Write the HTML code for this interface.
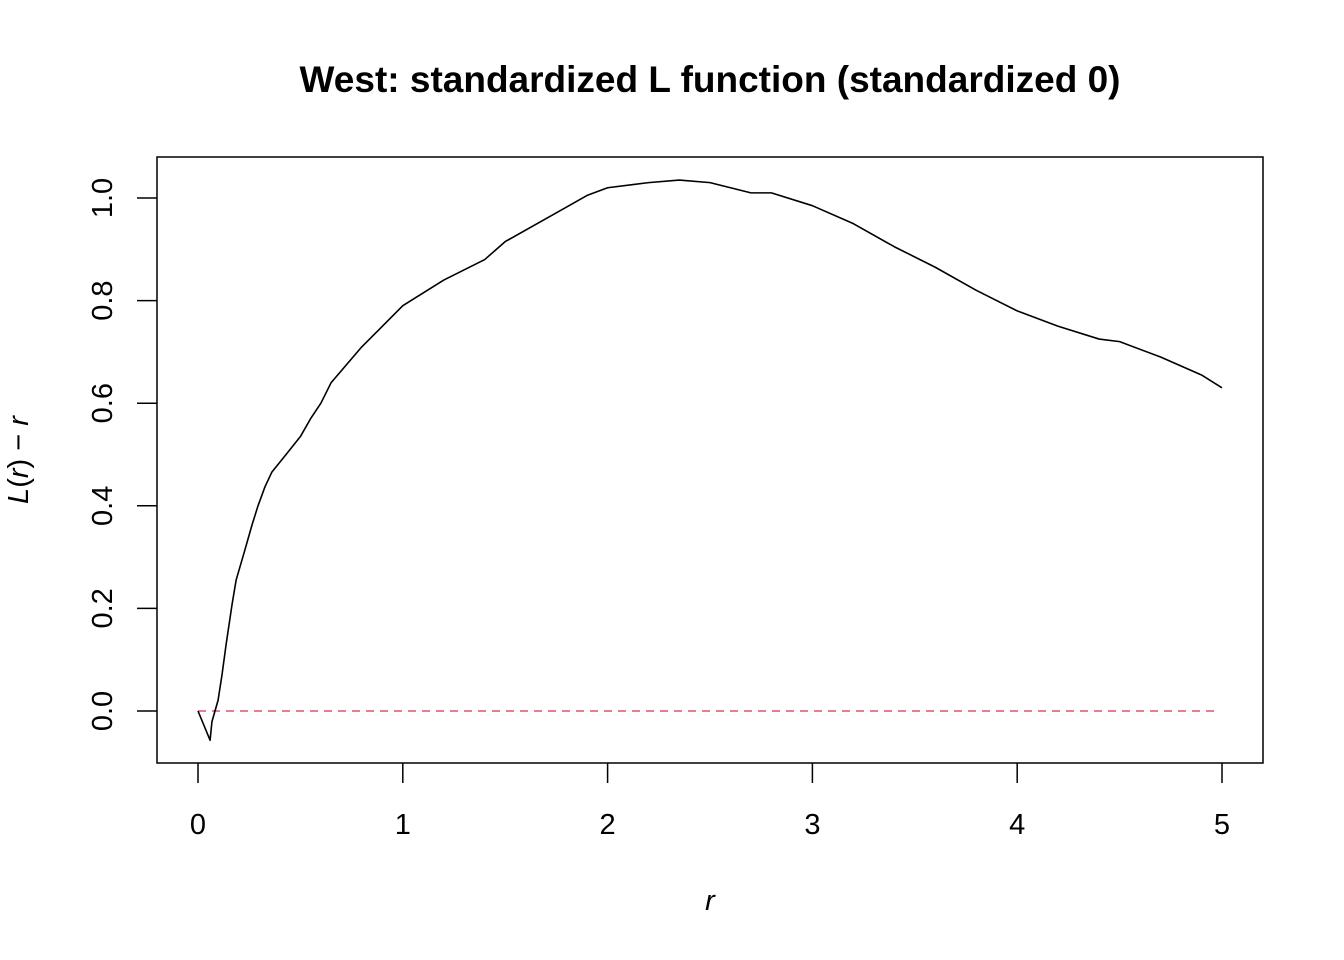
<!DOCTYPE html>
<html><head><meta charset="utf-8"><style>
body{margin:0;background:#fff;}
svg{display:block;font-family:"Liberation Sans",Arial,sans-serif;}
</style></head><body>
<svg id="chart" width="1344" height="960" xmlns="http://www.w3.org/2000/svg">
<text x="710" y="92" text-anchor="middle" font-size="37" font-weight="bold">West: standardized L function (standardized 0)</text>
<rect x="157" y="157" width="1106" height="606" fill="none" stroke="#000" stroke-width="1.5"/>
<g id="xaxis"></g>
<g id="yaxis"></g>
<text x="710" y="910" text-anchor="middle" font-size="29" font-style="italic">r</text>
<text transform="translate(28,460) rotate(-90)" text-anchor="middle" font-size="29"><tspan font-style="italic">L</tspan>(<tspan font-style="italic">r</tspan>) − <tspan font-style="italic">r</tspan></text>
<g id="series"></g>
</svg>
<script>
const xTicks=[0,1,2,3,4,5];
const yTicks=[0,0.2,0.4,0.6,0.8,1.0];
const yTickLabels=["0.0","0.2","0.4","0.6","0.8","1.0"];
const rVals=[0,0.059,0.068,0.098,0.117,0.137,0.166,0.186,0.229,0.264,0.293,0.327,0.361,0.43,0.5,0.55,0.6,0.65,0.8,1.0,1.2,1.4,1.5,1.7,1.9,2.0,2.2,2.35,2.5,2.7,2.8,3.0,3.2,3.4,3.6,3.8,4.0,4.2,4.4,4.5,4.7,4.9,5.0];
const lVals=[0,-0.057,-0.021,0.021,0.07,0.129,0.207,0.255,0.314,0.363,0.40,0.437,0.466,0.50,0.535,0.57,0.60,0.64,0.71,0.79,0.84,0.88,0.915,0.96,1.005,1.02,1.03,1.035,1.03,1.01,1.01,0.985,0.95,0.905,0.865,0.82,0.78,0.75,0.725,0.72,0.69,0.655,0.63];
const theoR=[0,4.97];
const theoVals=[0,0];
const NS="http://www.w3.org/2000/svg";
const sx=v=>198+v*204.8, sy=v=>711-v*513;
function el(t,a,p){const e=document.createElementNS(NS,t);for(const k in a)e.setAttribute(k,a[k]);p.appendChild(e);return e;}
const xa=document.getElementById('xaxis'), ya=document.getElementById('yaxis'), s=document.getElementById('series');
xTicks.forEach(t=>{
 const l=el('line',{x1:sx(t),x2:sx(t),y1:763,y2:783,stroke:'#000','stroke-width':1.5},xa);
 
 
 const tx=el('text',{x:sx(t),y:834,'text-anchor':'middle','font-size':29},xa);tx.textContent=t;
 
 
});
yTicks.forEach((t,i)=>{
 const l=el('line',{x1:137,x2:157,y1:sy(t),y2:sy(t),stroke:'#000','stroke-width':1.5},ya);
 
 
 const tx=el('text',{transform:`translate(112,${sy(t)}) rotate(-90)`,'text-anchor':'middle','font-size':29},ya);tx.textContent=yTickLabels[i];
 
 
});
const th=el('polyline',{points:theoR.map((r,i)=>sx(r)+','+sy(theoVals[i])).join(' '),fill:'none',stroke:'#DF536B','stroke-width':1.5,'stroke-dasharray':'8,6'},s);


const ob=el('polyline',{points:rVals.map((r,i)=>sx(r)+','+sy(lVals[i])).join(' '),fill:'none',stroke:'#000','stroke-width':1.6,'stroke-linejoin':'round'},s);


</script>
</body></html>
